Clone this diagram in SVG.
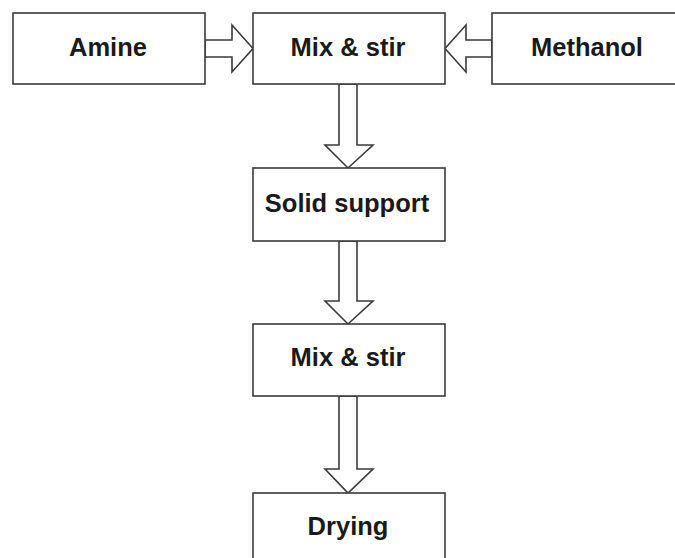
<svg xmlns="http://www.w3.org/2000/svg" width="675" height="558" viewBox="0 0 675 558">
<style>
.box{fill:#fff;stroke:#3a3a3a;stroke-width:1.6}
.arr{fill:#fff;stroke:#3a3a3a;stroke-width:1.6;stroke-linejoin:miter}
.lbl{font-family:"Liberation Sans",Arial,sans-serif;font-weight:bold;font-size:25.5px;fill:#1a1a1a;text-anchor:middle}
</style>
<rect width="675" height="558" fill="#fff"/>
<g id="connectors">
<polygon class="arr" points="205,40 232,40 232,25 253,48.5 232,72 232,57 205,57"/>
<polygon class="arr" points="492,40 466,40 466,25 445,48.5 466,72 466,57 492,57"/>
<polygon class="arr" points="339,84 357,84 357,145 373,145 348,168 325,145 339,145"/>
<polygon class="arr" points="339,241 357,241 357,301 373,301 348,324 325,301 339,301"/>
<polygon class="arr" points="339,396 357,396 357,469 373,469 348,493 325,469 339,469"/>
</g>
<g id="amine"><rect class="box" x="13" y="13" width="192" height="71"/><text class="lbl" x="108" y="56">Amine</text></g>
<g id="mix1"><rect class="box" x="253" y="13" width="192" height="71"/><text class="lbl" x="348" y="56">Mix &amp; stir</text></g>
<g id="methanol"><rect class="box" x="492" y="13" width="192" height="71"/><text class="lbl" x="587" y="56">Methanol</text></g>
<g id="solid"><rect class="box" x="253" y="168" width="192" height="73"/><text class="lbl" x="347" y="212">Solid support</text></g>
<g id="mix2"><rect class="box" x="253" y="324" width="192" height="72"/><text class="lbl" x="348" y="366">Mix &amp; stir</text></g>
<g id="drying"><rect class="box" x="253" y="493" width="192" height="72"/><text class="lbl" x="348" y="535">Drying</text></g>
</svg>
